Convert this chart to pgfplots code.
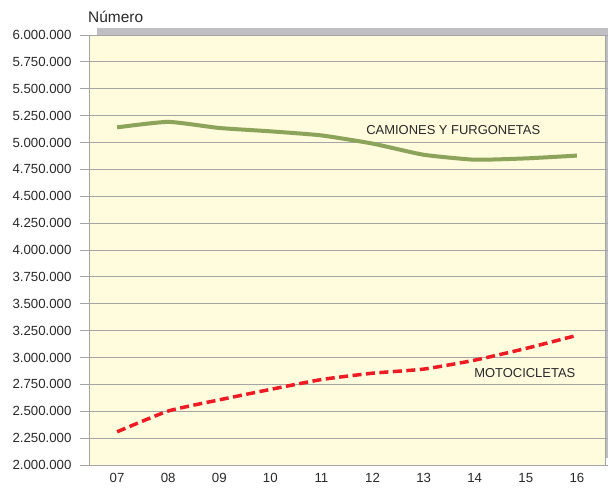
\documentclass[border=0pt]{standalone}
\usepackage{pgfplots}
\pgfplotsset{compat=1.18}
\usepackage{fontspec}
\setmainfont{Liberation Sans}
\usetikzlibrary{shadows}

\definecolor{bgyellow}{RGB}{255,251,221}
\definecolor{gridgray}{RGB}{165,165,165}
\definecolor{shadowgray}{RGB}{190,190,195}
\definecolor{olive}{RGB}{140,163,90}
\definecolor{motored}{RGB}{237,28,36}
\definecolor{txt}{RGB}{40,40,40}

\begin{document}
\begin{tikzpicture}
\begin{axis}[
    scale only axis,
    width=516bp, height=430bp,
    xmin=-0.55, xmax=9.55,
    ymin=2000000, ymax=6000000,
    xtick={0,...,9},
    xticklabels={07,08,09,10,11,12,13,14,15,16},
    ytick={2000000,2250000,...,6000000},
    scaled y ticks=false,
    /pgf/number format/.cd, fixed, 1000 sep={.}, assume math mode=true,
    /pgfplots/.cd,
    ymajorgrids,
    grid style={gridgray, line width=0.8bp},
    axis line style={gridgray, line width=0.8bp},
    tick align=outside,
    major tick length=9bp,
    ytick style={gridgray, line width=0.8bp},
    xtick style={draw=none},
    tick label style={font=\fontsize{13.3}{15}\selectfont, text=txt},
    yticklabel style={xshift=-5bp},
    xticklabel style={yshift=4.5bp},
    axis background/.style={fill=bgyellow,
        drop shadow={shadow xshift=8bp, shadow yshift=7bp, opacity=1, fill=shadowgray}},
]
\addplot[olive, line width=4bp, smooth, tension=0.3] coordinates {
    (0,5141000) (1,5192000) (2,5135000) (3,5104000) (4,5066000)
    (5,4990000) (6,4886000) (7,4840000) (8,4852000) (9,4878000)
};
\addplot[motored, line width=3.5bp, dash pattern=on 9bp off 4.5bp, smooth, tension=0.3] coordinates {
    (0,2309000) (1,2502000) (2,2606000) (3,2703000) (4,2795000)
    (5,2854000) (6,2892000) (7,2975000) (8,3084000) (9,3206000)
};
\node[font=\fontsize{13}{15}\selectfont, text=txt] at (axis cs:6.58,5116000) {CAMIONES Y FURGONETAS};
\node[font=\fontsize{13}{15}\selectfont, text=txt] at (axis cs:7.98,2856000) {MOTOCICLETAS};
\end{axis}
\node[anchor=west, font=\fontsize{15.5}{17}\selectfont, text=txt, inner sep=0pt] at ([xshift=-1bp, yshift=18bp]current axis.north west) {Número};
\pgfresetboundingbox
\path ([xshift=-89bp, yshift=-25bp]current axis.south west) rectangle ([xshift=3bp, yshift=35bp]current axis.north east);
\end{tikzpicture}
\end{document}
